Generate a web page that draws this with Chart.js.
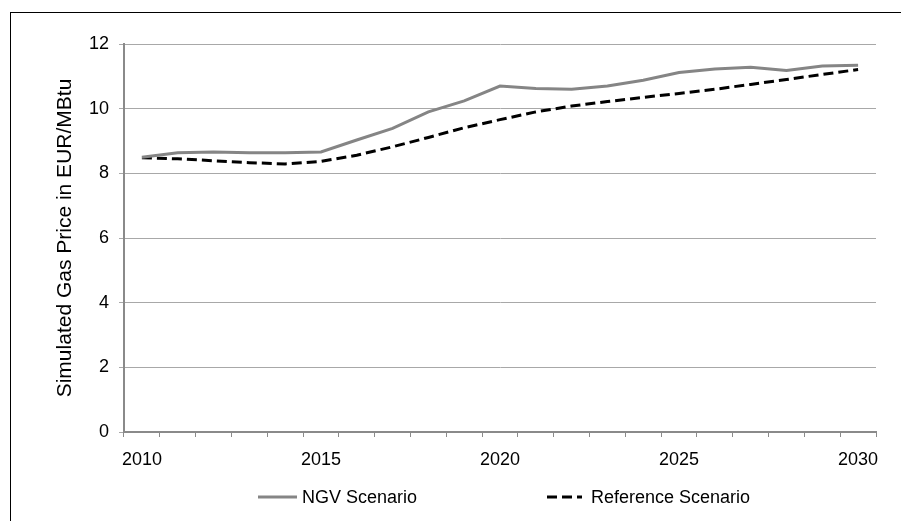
<!DOCTYPE html>
<html lang="en">
<head>
    <meta charset="UTF-8">
    <title>Simulated Gas Price</title>
    <script src="https://cdn.jsdelivr.net/npm/chart.js"></script>
    <style>
        body {
            margin: 0;
            background: #fff;
        }
        .wrap {
            position: relative;
            width: 901px;
            height: 521px;
        }
        canvas {
            position: absolute;
            left: 0;
            top: 0;
        }
        .frame {
            position: absolute;
            left: 10px;
            top: 12px;
            width: 900px;
            height: 520px;
            border-left: 1px solid #000;
            border-top: 1px solid #000;
            pointer-events: none;
        }
    </style>
</head>
<body>
    <div class="wrap">
        <canvas id="gasChart" width="901" height="521"></canvas>
        <div class="frame"></div>
    </div>

    <script>
        const years = ['2010', '2011', '2012', '2013', '2014', '2015', '2016', '2017', '2018', '2019', '2020',
                       '2021', '2022', '2023', '2024', '2025', '2026', '2027', '2028', '2029', '2030'];

        const ngvScenario = [8.50, 8.64, 8.66, 8.64, 8.64, 8.66, 9.03, 9.39, 9.90, 10.24, 10.70,
                             10.62, 10.60, 10.70, 10.88, 11.12, 11.23, 11.28, 11.18, 11.32, 11.34];

        const referenceScenario = [8.48, 8.45, 8.39, 8.33, 8.29, 8.37, 8.56, 8.82, 9.11, 9.41, 9.66,
                                   9.90, 10.08, 10.22, 10.35, 10.47, 10.60, 10.75, 10.90, 11.06, 11.21];

        const yTicks = [0, 2, 4, 6, 8, 10, 12];

        const FONT = "'Liberation Sans', Arial, sans-serif";

        // legend drawn by hand so the two entries sit far apart like the original
        const bottomLegend = {
            id: 'bottomLegend',
            afterDraw(chart) {
                const ctx = chart.ctx;
                const area = chart.chartArea;
                const mid = (area.left + area.right) / 2;
                const y = 497;
                const starts = [mid - 242, mid + 47];
                ctx.save();
                ctx.font = '18px ' + FONT;
                ctx.textBaseline = 'middle';
                ctx.fillStyle = '#000';
                chart.data.datasets.forEach((ds, i) => {
                    const x = starts[i];
                    const w = i === 0 ? 39 : 35;
                    ctx.beginPath();
                    ctx.strokeStyle = ds.borderColor;
                    ctx.lineWidth = ds.borderWidth;
                    ctx.setLineDash(ds.borderDash || []);
                    ctx.moveTo(x, y);
                    ctx.lineTo(x + w, y);
                    ctx.stroke();
                    ctx.setLineDash([]);
                    ctx.fillText(ds.label, x + w + (i === 0 ? 5 : 9), y + 1);
                });
                ctx.restore();
            }
        };

        function drawChart() {
            const ctx = document.getElementById('gasChart').getContext('2d');

            new Chart(ctx, {
                type: 'line',
                data: {
                    labels: years,
                    datasets: [
                        {
                            label: 'NGV Scenario',
                            data: ngvScenario,
                            borderColor: '#858585',
                            borderWidth: 3,
                            pointRadius: 0,
                            tension: 0,
                            fill: false
                        },
                        {
                            label: 'Reference Scenario',
                            data: referenceScenario,
                            borderColor: '#000000',
                            borderWidth: 3,
                            borderDash: [10, 5],
                            pointRadius: 0,
                            tension: 0,
                            fill: false
                        }
                    ]
                },
                options: {
                    responsive: false,
                    animation: false,
                    layout: {
                        padding: { top: 44, right: 25, bottom: 49, left: 0 }
                    },
                    plugins: {
                        legend: { display: false },
                        tooltip: { enabled: false }
                    },
                    scales: {
                        x: {
                            offset: true,
                            grid: {
                                offset: true,
                                drawOnChartArea: false,
                                drawTicks: true,
                                tickLength: 5,
                                color: '#8a8a8a'
                            },
                            border: { color: '#8a8a8a', width: 2 },
                            ticks: {
                                autoSkip: false,
                                maxRotation: 0,
                                padding: 12,
                                color: '#000',
                                font: { family: FONT, size: 18 },
                                callback: function (value) {
                                    const label = years[value];
                                    return Number(label) % 5 === 0 ? label : '';
                                }
                            },
                            afterFit: function (scale) {
                                scale.height = 40;
                            }
                        },
                        y: {
                            min: 0,
                            max: 12,
                            afterBuildTicks: function (scale) {
                                scale.ticks = yTicks.map(v => ({ value: v }));
                            },
                            grid: {
                                color: '#a8a8a8',
                                lineWidth: 1,
                                drawTicks: true,
                                tickLength: 5
                            },
                            border: { color: '#8a8a8a', width: 2 },
                            ticks: {
                                padding: 10,
                                color: '#000',
                                font: { family: FONT, size: 18 }
                            },
                            title: {
                                display: true,
                                text: 'Simulated Gas Price in EUR/MBtu',
                                color: '#000',
                                font: { family: FONT, size: 21 },
                                padding: { top: 53, bottom: 0 }
                            },
                            afterFit: function (scale) {
                                scale.width = 124;
                            }
                        }
                    }
                },
                plugins: [bottomLegend]
            });
        }

        window.onload = function () {
            drawChart();
        };
    </script>
</body>
</html>
